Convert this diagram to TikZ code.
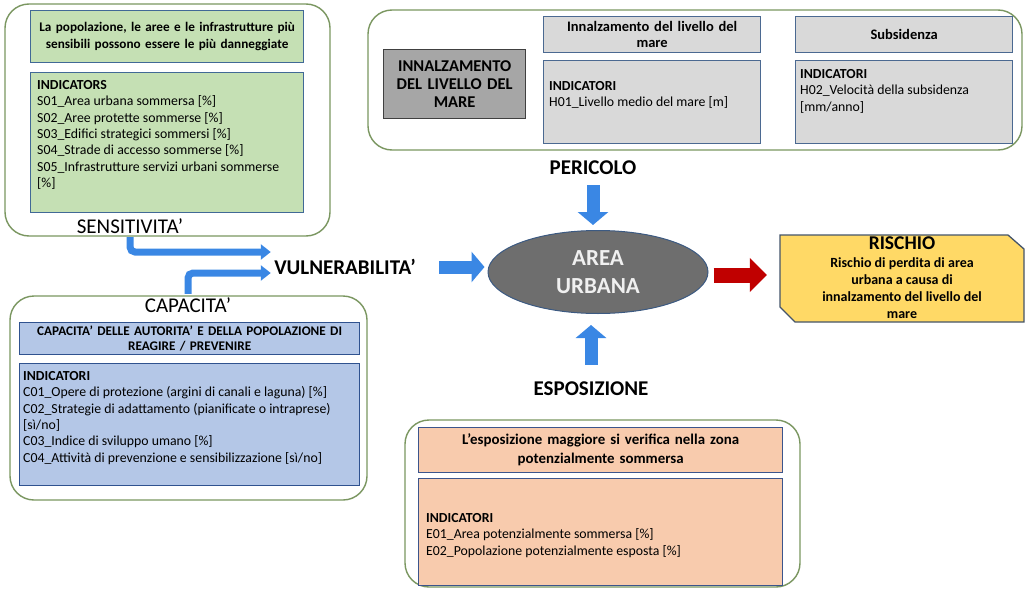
\documentclass[tikz,border=0pt]{standalone}
\usepackage{fontspec}
\setmainfont{Carlito}
\usepackage{xcolor}
\usetikzlibrary{arrows.meta}
\usetikzlibrary{shapes.geometric}
\usetikzlibrary{positioning}

\definecolor{framegreen}{RGB}{122,150,96}
\definecolor{sensfill}{RGB}{197,224,180}
\definecolor{sensline}{RGB}{65,105,150}
\definecolor{hazfill}{RGB}{217,217,217}
\definecolor{hazline}{RGB}{75,105,145}
\definecolor{titlefill}{RGB}{166,166,166}
\definecolor{titleline}{RGB}{64,64,64}
\definecolor{capfill}{RGB}{180,199,231}
\definecolor{capline}{RGB}{47,82,143}
\definecolor{expfill}{RGB}{248,203,173}
\definecolor{expline}{RGB}{60,85,140}
\definecolor{areafill}{RGB}{110,110,110}
\definecolor{arealine}{RGB}{60,90,130}
\definecolor{arrowblue}{RGB}{58,135,228}
\definecolor{arrowred}{RGB}{192,0,0}
\definecolor{riskfill}{RGB}{255,217,102}
\definecolor{riskline}{RGB}{68,84,106}

\tikzset{
  % frames and boxes
  frame/.style={draw=framegreen, line width=1.4pt, rounded corners=24pt},
  box/.style={draw=#1line, fill=#1fill, line width=1.3pt, rectangle, inner sep=0pt, anchor=north west},
  headfont/.style={font=\fontsize{#1}{16.5}\selectfont\bfseries},
  listfont/.style={font=\fontsize{13.8}{16.4}\selectfont},
  lbl/.style={font=\fontsize{21}{24}\selectfont},
  keyword/.style={font=\fontsize{21}{24}\selectfont\bfseries},
  % arrows
  blockarrow/.style={draw=arrowblue, line width=13pt, -{Triangle[length=13pt,width=30pt]}},
  redarrow/.style={draw=arrowred, line width=15pt, -{Triangle[length=17pt,width=33pt]}},
  ribbon/.style={draw=arrowblue, line width=7pt, rounded corners=5pt, -{Triangle[length=10pt,width=15pt]}}
}

\begin{document}
\begin{tikzpicture}[x=1pt, y=-1pt]
  \useasboundingbox (0,0) rectangle (1025,589);

  % outer frames
  \draw[frame] (5,4) rectangle (330,236);
  \draw[frame] (368,10) rectangle (1022,150);
  \draw[frame] (10,296) rectangle (367,500);
  \draw[frame] (405,420) rectangle (800,587);

  % sensitivita'
  \node[box=sens, minimum width=273pt, minimum height=52pt, text width=268pt, align=center, headfont=13.2] (senshead) at (30,10)
    {La popolazione, le aree e le infrastrutture più\\ sensibili possono essere le più danneggiate};
  \node[box=sens, minimum width=273pt, minimum height=140pt] (sensind) at (30,72) {};
  \node[anchor=north west, inner sep=0pt, align=left, listfont] (senslist) at (37,80)
    {\textbf{INDICATORS}\\
     S01\_Area urbana sommersa [\%]\\
     S02\_Aree protette sommerse [\%]\\
     S03\_Edifici strategici sommersi [\%]\\
     S04\_Strade di accesso sommerse [\%]\\
     S05\_Infrastrutture servizi urbani sommerse\\
     {[\%]}};
  \node[lbl] (sens) at (130,226) {SENSITIVITA'};

  % pericolo
  \node[box=title, minimum width=142pt, minimum height=69pt, text width=140pt, align=center,
        font=\fontsize{16.5}{17.8}\selectfont\bfseries] (hazard) at (383,49)
    {INNALZAMENTO\\ DEL LIVELLO DEL\\ MARE};
  \node[box=haz, minimum width=217pt, minimum height=36pt, text width=212pt, align=center, headfont=14.5] (seahead) at (543,16)
    {Innalzamento del livello del\\ mare};
  \node[box=haz, minimum width=217pt, minimum height=83pt] (seaind) at (543,60) {};
  \node[anchor=north west, inner sep=0pt, align=left, listfont] (sealist) at (549,81)
    {\textbf{INDICATORI}\\ H01\_Livello medio del mare [m]};
  \node[box=haz, minimum width=217pt, minimum height=36pt, text width=212pt, align=center, headfont=14.5] (subhead) at (795,16)
    {Subsidenza};
  \node[box=haz, minimum width=217pt, minimum height=83pt] (subind) at (795,60) {};
  \node[anchor=north west, inner sep=0pt, align=left, listfont] (sublist) at (800,69)
    {\textbf{INDICATORI}\\ H02\_Velocità della subsidenza\\ {[mm/anno]}};
  \node[keyword] (peric) at (593,168) {PERICOLO};

  % capacita'
  \node[lbl] (cap) at (188,305) {CAPACITA'};
  \node[box=cap, minimum width=340pt, minimum height=32pt, text width=338pt, align=center,
        font=\fontsize{13.2}{15.5}\selectfont\bfseries] (caphead) at (19,322)
    {CAPACITA' DELLE AUTORITA' E DELLA POPOLAZIONE DI\\ REAGIRE / PREVENIRE};
  \node[box=cap, minimum width=340pt, minimum height=122pt] (capind) at (19,363) {};
  \node[anchor=north west, inner sep=0pt, align=left, listfont] (caplist) at (23,371)
    {\textbf{INDICATORI}\\
     C01\_Opere di protezione (argini di canali e laguna) [\%]\\
     C02\_Strategie di adattamento (pianificate o intraprese)\\
     {[sì/no]}\\
     C03\_Indice di sviluppo umano [\%]\\
     C04\_Attività di prevenzione e sensibilizzazione [sì/no]};

  % vulnerabilita'
  \node[keyword] (vuln) at (345,267) {VULNERABILITA'};

  % esposizione
  \node[keyword] (espo) at (591,389) {ESPOSIZIONE};
  \node[box=exp, minimum width=364pt, minimum height=45pt, text width=358pt, align=center,
        font=\fontsize{14.9}{19}\selectfont\bfseries] (exphead) at (418,427)
    {L'esposizione maggiore si verifica nella zona\\ potenzialmente sommersa};
  \node[box=exp, minimum width=364pt, minimum height=107pt] (expind) at (418,478) {};
  \node[anchor=north west, inner sep=0pt, align=left, listfont] (explist) at (426,513)
    {\textbf{INDICATORI}\\
     E01\_Area potenzialmente sommersa [\%]\\
     E02\_Popolazione potenzialmente esposta [\%]};

  % area urbana
  \node[ellipse, draw=arealine, line width=1pt, fill=areafill, inner sep=0pt,
        minimum width=220pt, minimum height=83pt, text=white!94!black, align=center,
        font=\fontsize{23}{28}\selectfont\bfseries] (area) at (598,272) {AREA\\ URBANA};

  % rischio
  \filldraw[fill=riskfill, draw=riskline, line width=1.3pt]
    (780,235) -- (1008,235) -- (1024,249) -- (1024,322) -- (795,322) -- (780,307) -- cycle;
  \node[minimum width=244pt, minimum height=87pt, align=center,
        font=\fontsize{14}{17.3}\selectfont\bfseries] (risk) at (902,278)
    {{\fontsize{19.5}{20}\selectfont RISCHIO}\\
     Rischio di perdita di area\\
     urbana a causa di\\
     innalzamento del livello del\\
     mare};

  % connectors
  \draw[ribbon] (sens.south) |- ([yshift=15pt]vuln.west);
  \draw[ribbon] (cap.north) |- ([yshift=-6pt]vuln.west);
  \draw[blockarrow, shorten <=20pt, shorten >=3pt] (vuln.east) -- (vuln.east -| area.west);
  \draw[blockarrow, shorten <=7pt, shorten >=5pt] (peric.south) -- (peric.south |- area.north);
  \draw[blockarrow, shorten <=14pt, shorten >=11pt] (espo.north) -- (espo.north |- area.south);
  \coordinate (redstart) at ([yshift=-3pt]area.east);
  \draw[redarrow, shorten <=5pt, shorten >=13pt] (redstart) -- (redstart -| risk.west);
\end{tikzpicture}
\end{document}
